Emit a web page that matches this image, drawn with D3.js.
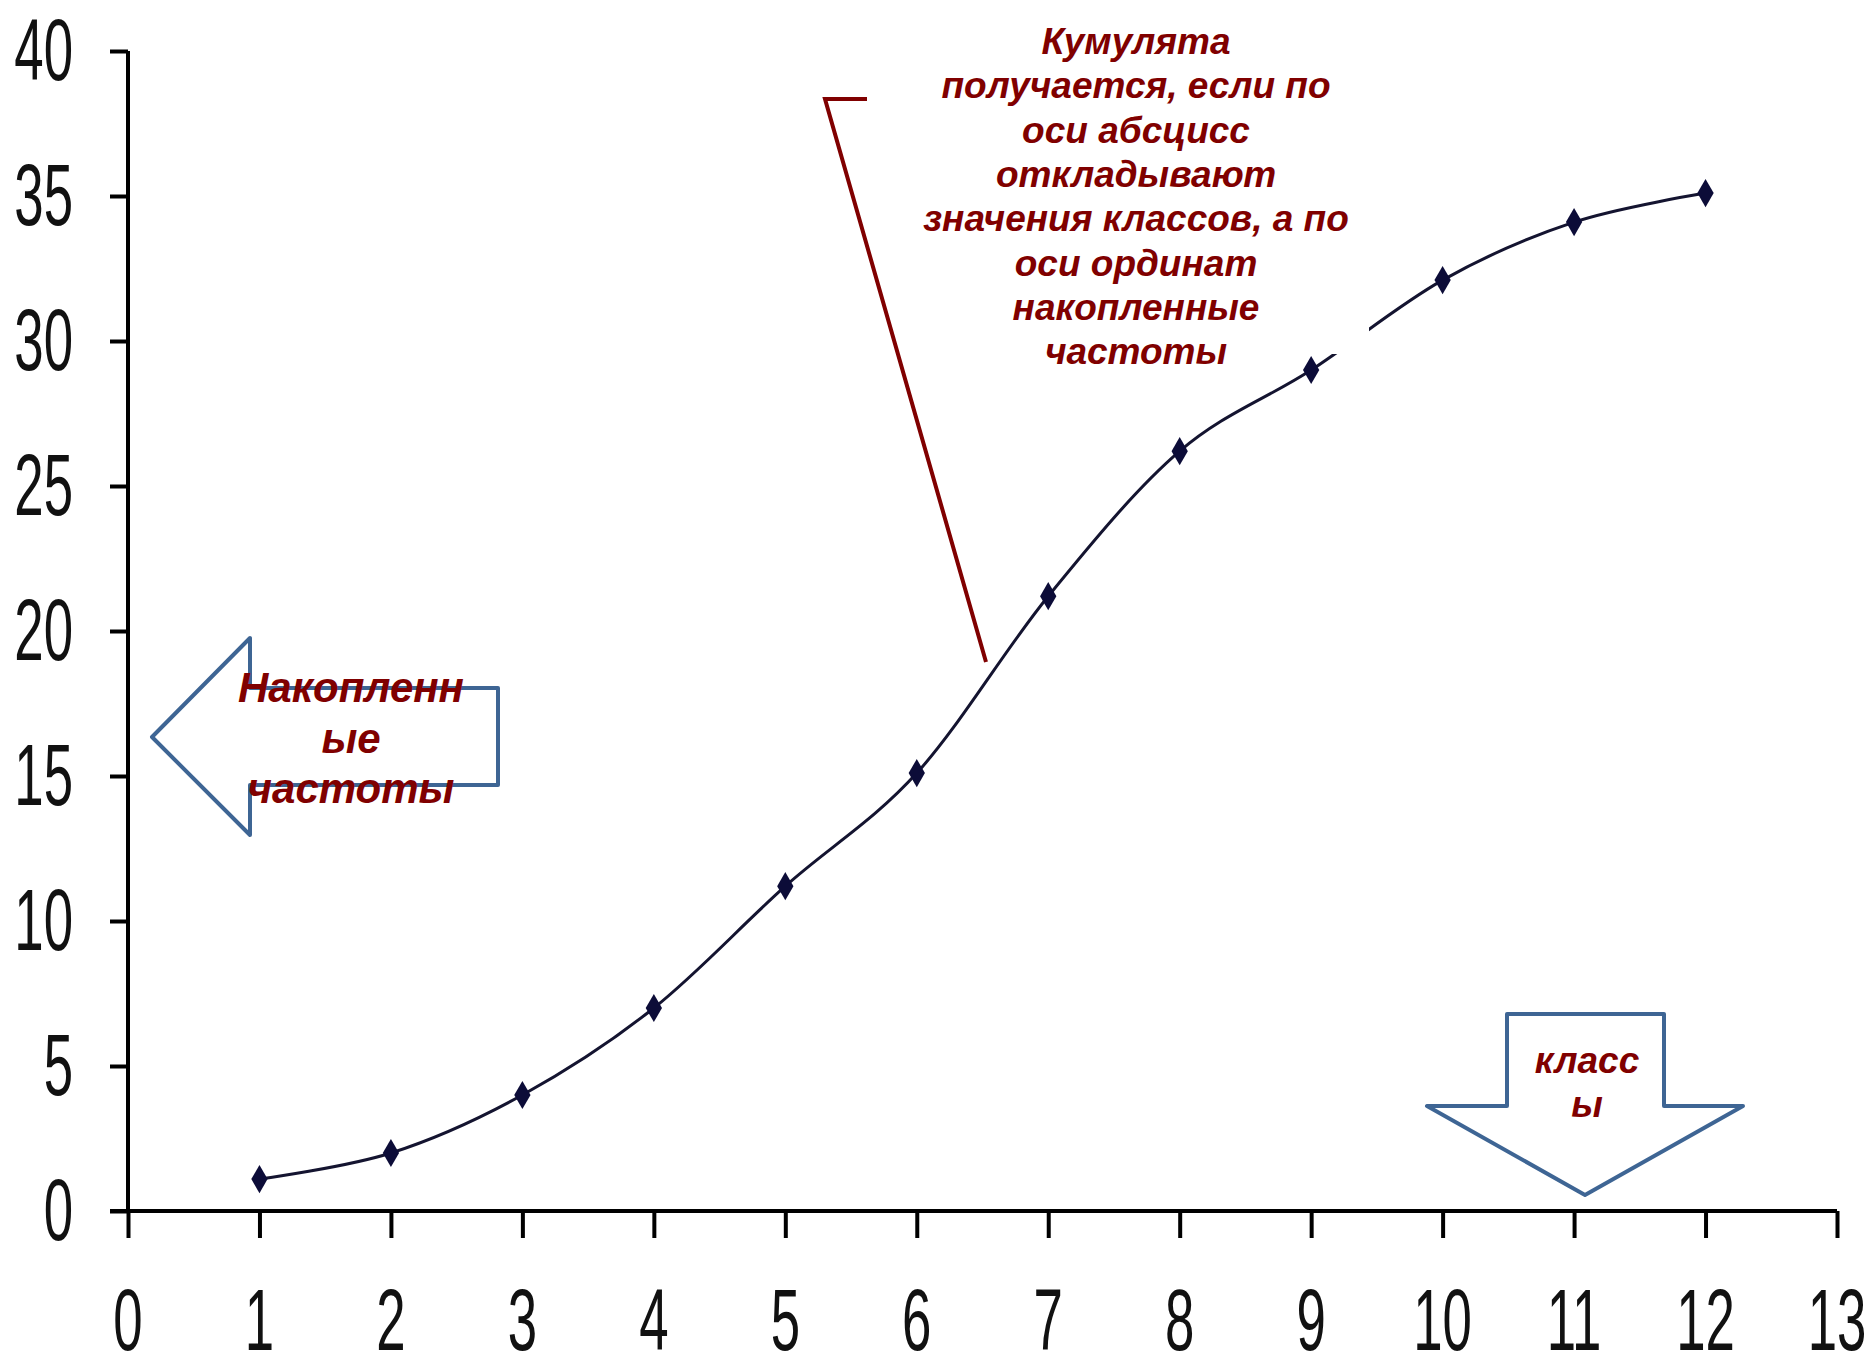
<!DOCTYPE html>
<html>
<head>
<meta charset="utf-8">
<script src="https://cdn.jsdelivr.net/npm/d3@7"></script>
<style>
  body { margin: 0; background: #fff; }
  .tick-label { font-family: "Liberation Sans", Arial, sans-serif; font-size: 80px; fill: #111; }
  .note { font-family: "Liberation Sans", Arial, sans-serif; font-weight: bold; font-style: italic; fill: #800000; }
</style>
</head>
<body>
<div id="vis"></div>
<script>
// cumulative frequencies by class
const classes = [1, 2, 3, 4, 5, 6, 7, 8, 9, 10, 11, 12]
const cumFreq = [1.1, 2, 4, 7, 11.2, 15.1, 21.2, 26.2, 29, 32.1, 34.1, 35.1]
const xTicks = [0, 1, 2, 3, 4, 5, 6, 7, 8, 9, 10, 11, 12, 13]
const yTicks = [0, 5, 10, 15, 20, 25, 30, 35, 40]

const calloutLines = ['Кумулята', 'получается, если по', 'оси абсцисс', 'откладывают',
    'значения классов, а по', 'оси ординат', 'накопленные', 'частоты']
const yArrowLines = ['Накопленн', 'ые', 'частоты']
const xArrowLines = ['класс', 'ы']

const W = 1874, H = 1369
const margin = { top: 51, right: 37, bottom: 158, left: 128 }

const svg = d3.select('#vis')
    .append('svg')
    .attr('width', W)
    .attr('height', H)

const xScale = d3.scaleLinear().domain([0, 13]).range([margin.left, W - margin.right])
const yScale = d3.scaleLinear().domain([0, 40]).range([H - margin.bottom, margin.top])

const darkRed = '#800000'
const arrowBlue = '#3e6594'

function drawAxes(){
    const y0 = yScale(0), x0 = xScale(0)

    // y axis
    const yAxis = d3.axisLeft(yScale).tickValues(yTicks).tickSize(18).tickFormat('')
    svg.append('g')
        .attr('transform', `translate(${x0},0)`)
        .call(yAxis)
        .call(g => g.select('.domain').attr('d', `M0,${yScale(40)}V${y0}`))
        .call(g => g.selectAll('line, path').attr('stroke', '#000').attr('stroke-width', 4))

    // x axis (runs a bit left of the y axis)
    const xAxis = d3.axisBottom(xScale).tickValues(xTicks).tickSize(27).tickFormat('')
    svg.append('g')
        .attr('transform', `translate(0,${y0})`)
        .call(xAxis)
        .call(g => g.select('.domain').attr('d', `M${x0 - 18},0H${xScale(13)}`))
        .call(g => g.selectAll('line, path').attr('stroke', '#000').attr('stroke-width', 4))

    // tall condensed digits: squeeze x, stretch y a little
    const sx = 0.66, sy = 1.1
    svg.selectAll('.ylab')
        .data(yTicks)
        .join('text')
        .attr('class', 'tick-label ylab')
        .attr('text-anchor', 'end')
        .attr('transform', d => `translate(73,${yScale(d) + 29}) scale(${sx},${sy})`)
        .text(d => d)

    svg.selectAll('.xlab')
        .data(xTicks)
        .join('text')
        .attr('class', 'tick-label xlab')
        .attr('text-anchor', 'middle')
        .attr('transform', d => `translate(${xScale(d)},${y0 + 139}) scale(${sx},${sy})`)
        .text(d => d)
}

function drawCurve(){
    const pts = classes.map((c, i) => [c, cumFreq[i]])
    const line = d3.line()
        .x(d => xScale(d[0]))
        .y(d => yScale(d[1]))
        .curve(d3.curveCatmullRom.alpha(0))

    svg.append('path')
        .datum(pts)
        .attr('d', line)
        .attr('fill', 'none')
        .attr('stroke', '#141430')
        .attr('stroke-width', 3)

    svg.selectAll('.marker')
        .data(pts)
        .join('path')
        .attr('class', 'marker')
        .attr('d', d3.symbol(d3.symbolDiamond, 230))
        .attr('transform', d => `translate(${xScale(d[0])},${yScale(d[1])})`)
        .attr('fill', '#0c0c38')
}

function drawCallout(){
    // white text box sits over the curve
    svg.append('rect')
        .attr('x', 885).attr('y', 8)
        .attr('width', 484).attr('height', 346)
        .attr('fill', '#fff')

    svg.append('path')
        .attr('d', 'M867,99 H825 L986,662')
        .attr('fill', 'none')
        .attr('stroke', darkRed)
        .attr('stroke-width', 4)

    svg.selectAll('.callout')
        .data(calloutLines)
        .join('text')
        .attr('class', 'note callout')
        .attr('x', 1136)
        .attr('y', (d, i) => 54 + i * 44.3)
        .attr('text-anchor', 'middle')
        .style('font-size', '37px')
        .text(d => d)
}

function drawArrows(){
    // left block arrow
    const la = [[152, 737], [250, 638], [250, 688], [498, 688], [498, 785], [250, 785], [250, 835]]
    svg.append('polygon')
        .attr('points', la.join(' '))
        .attr('fill', 'none')
        .attr('stroke', arrowBlue)
        .attr('stroke-width', 4)
        .attr('stroke-linejoin', 'round')

    svg.selectAll('.ylab-note')
        .data(yArrowLines)
        .join('text')
        .attr('class', 'note ylab-note')
        .attr('x', 351)
        .attr('y', (d, i) => 702 + i * 50.5)
        .attr('text-anchor', 'middle')
        .style('font-size', '42px')
        .text(d => d)

    // down block arrow
    const da = [[1507, 1014], [1664, 1014], [1664, 1106], [1743, 1106], [1585, 1195], [1427, 1106], [1507, 1106]]
    svg.append('polygon')
        .attr('points', da.join(' '))
        .attr('fill', 'none')
        .attr('stroke', arrowBlue)
        .attr('stroke-width', 4)
        .attr('stroke-linejoin', 'round')

    svg.selectAll('.xlab-note')
        .data(xArrowLines)
        .join('text')
        .attr('class', 'note xlab-note')
        .attr('x', 1587)
        .attr('y', (d, i) => 1073 + i * 44)
        .attr('text-anchor', 'middle')
        .style('font-size', '37px')
        .text(d => d)
}

drawAxes()
drawCurve()
drawCallout()
drawArrows()
</script>
</body>
</html>
